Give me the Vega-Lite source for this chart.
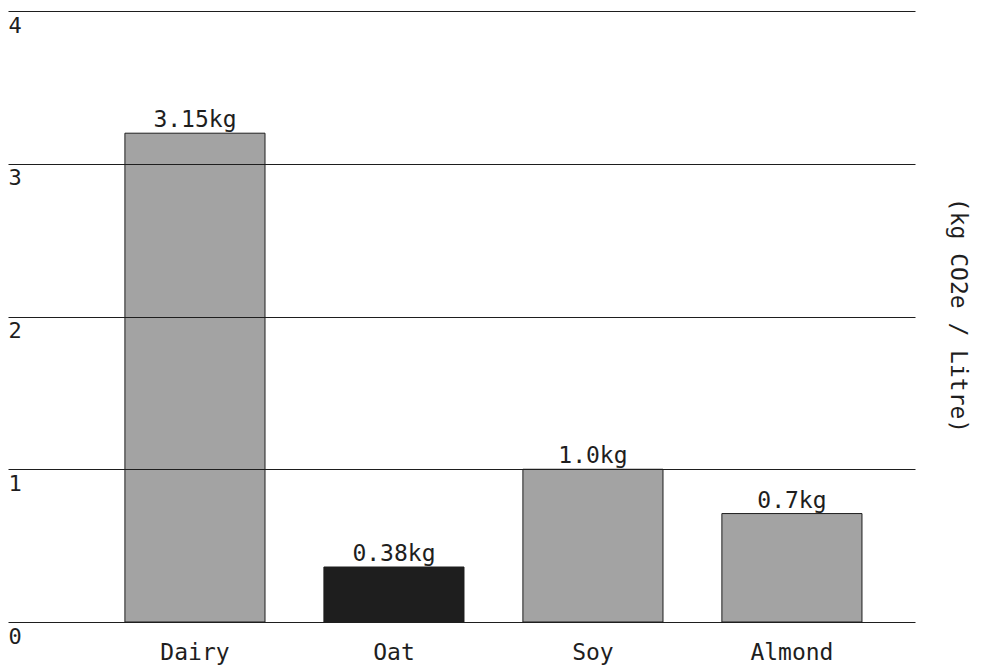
{
  "$schema": "https://vega.github.io/schema/vega-lite/v6.json",
  "width": 907,
  "height": 611,
  "autosize": {"type": "none"},
  "padding": {"left": 8, "top": 11, "right": 70, "bottom": 44},
  "background": "#ffffff",
  "config": {
    "view": {"stroke": null},
    "font": "DejaVu Sans Mono",
    "axis": {"labelFont": "DejaVu Sans Mono", "titleFont": "DejaVu Sans Mono"}
  },
  "data": {
    "values": [
      {"milk": "Dairy", "value": 3.2, "label": "3.15kg", "kind": "stipple"},
      {"milk": "Oat", "value": 0.36, "label": "0.38kg", "kind": "solid"},
      {"milk": "Soy", "value": 1.0, "label": "1.0kg", "kind": "stipple"},
      {"milk": "Almond", "value": 0.71, "label": "0.7kg", "kind": "stipple"}
    ]
  },
  "encoding": {
    "x": {
      "field": "milk",
      "type": "nominal",
      "sort": null,
      "scale": {"paddingInner": 0.296, "paddingOuter": 0.427, "align": 0.688},
      "axis": {
        "title": null,
        "domain": false,
        "ticks": false,
        "grid": false,
        "labelAngle": 0,
        "labelFontSize": 23,
        "labelColor": "#1e1e1e",
        "labelPadding": 19
      }
    },
    "y": {
      "field": "value",
      "type": "quantitative",
      "scale": {"domain": [0, 4], "nice": false},
      "axis": {
        "zindex": 1,
        "values": [0, 1, 2, 3, 4],
        "domain": false,
        "ticks": false,
        "tickSize": 0,
        "grid": true,
        "gridColor": "#1e1e1e",
        "gridWidth": 1,
        "gridOpacity": 1,
        "labelAlign": "left",
        "labelBaseline": "top",
        "labelPadding": 0,
        "labelOffset": 4,
        "labelFontSize": 22,
        "labelColor": "#1e1e1e",
        "title": "(kg CO2e / Litre)",
        "titleFontSize": 23,
        "titleFontWeight": "normal",
        "titleColor": "#1e1e1e",
        "titleAngle": 90,
        "titleX": 949,
        "titleY": 304,
        "titleAlign": "center",
        "titleBaseline": "middle"
      }
    }
  },
  "layer": [
    {
      "mark": {"type": "bar", "stroke": "#1e1e1e", "strokeWidth": 1},
      "encoding": {
        "color": {
          "field": "kind",
          "type": "nominal",
          "scale": {"domain": ["stipple", "solid"], "range": ["#a3a3a3", "#1e1e1e"]},
          "legend": null
        }
      }
    },
    {
      "mark": {"type": "text", "baseline": "alphabetic", "dy": -6, "fontSize": 23, "color": "#1e1e1e"},
      "encoding": {"text": {"field": "label"}}
    }
  ]
}
